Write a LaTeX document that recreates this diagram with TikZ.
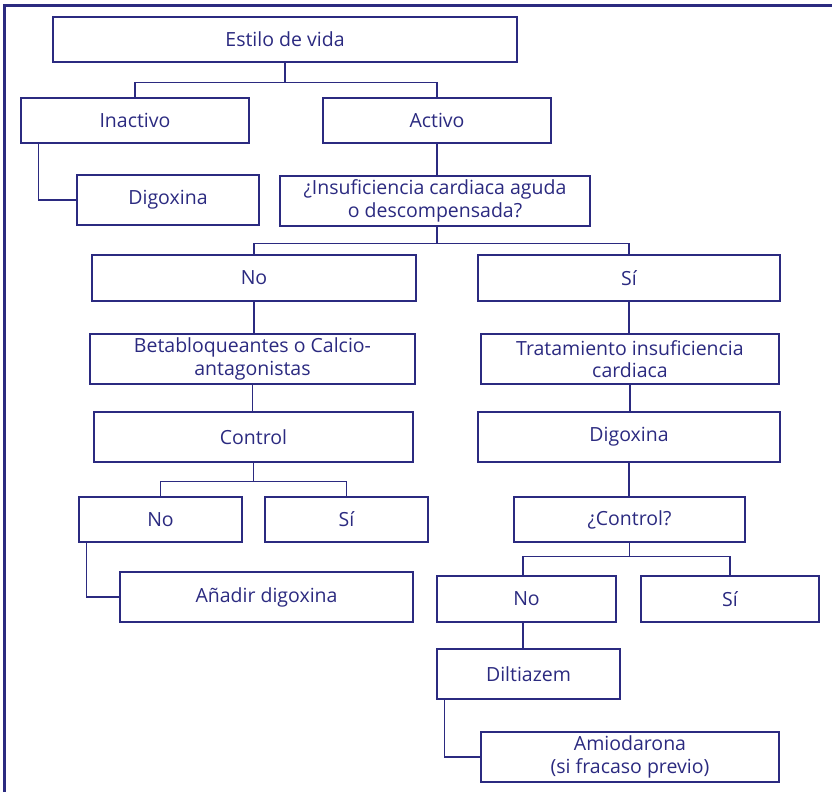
\documentclass[tikz,border=0pt]{standalone}
\usepackage{fontspec}
\setmainfont{Open Sans}
\usetikzlibrary{calc}
\definecolor{azul}{RGB}{43,42,128}

\begin{document}
\begin{tikzpicture}[
  x=1pt, y=-1pt,
  caja/.style={draw=azul, line width=1.3pt, text=azul, inner sep=0pt,
    align=center, font=\fontsize{19.5}{22.5}\selectfont},
  linea/.style={draw=azul, line width=1.3pt},
]
  \useasboundingbox (0,0) rectangle (832,792);
  % marco: solo arriba e izquierda
  \draw[azul, line width=3pt] (4,792) -- (4,6) -- (832,6);

  % primer nivel
  \node[caja, minimum width=464pt, minimum height=45pt] (estilo) at (285,39.5) {Estilo de vida};
  \node[caja, minimum width=228pt, minimum height=45pt] (inactivo) at (135,120.5) {Inactivo};
  \node[caja, minimum width=228pt, minimum height=45pt] (activo) at (437,120.5) {Activo};
  \node[caja, minimum width=182pt, minimum height=50pt] (digA) at (168,200) {Digoxina};
  \node[caja, minimum width=310pt, minimum height=50pt] (icq) at (435,201)
    {¿Insuficiencia cardiaca aguda\\o descompensada?};

  % rama izquierda (No)
  \node[caja, minimum width=324pt, minimum height=46pt] (no1) at (254,278) {No};
  \node[caja, minimum width=325pt, minimum height=50pt] (beta) at (252.5,359)
    {Betabloqueantes o Calcio-\\antagonistas};
  \node[caja, minimum width=319pt, minimum height=50pt] (control) at (253.5,437) {Control};
  \node[caja, minimum width=163pt, minimum height=45pt] (no2) at (160.5,519.5) {No};
  \node[caja, minimum width=163pt, minimum height=45pt] (si2) at (346.5,519.5) {Sí};
  \node[caja, minimum width=293pt, minimum height=50pt] (anadir) at (266.5,597) {Añadir digoxina};

  % rama derecha (Sí)
  \node[caja, minimum width=302pt, minimum height=46pt] (si1) at (629,278) {Sí};
  \node[caja, minimum width=298pt, minimum height=50pt] (trat) at (630,359)
    {Tratamiento insuficiencia\\cardiaca};
  \node[caja, minimum width=302pt, minimum height=50pt] (digB) at (629,437) {Digoxina};
  \node[caja, minimum width=231pt, minimum height=45pt] (ctrl) at (629.5,519.5) {¿Control?};
  \node[caja, minimum width=179pt, minimum height=46pt] (no3) at (526.5,599) {No};
  \node[caja, minimum width=178pt, minimum height=46pt] (si3) at (730,599) {Sí};
  \node[caja, minimum width=183pt, minimum height=50pt] (dilt) at (528.5,674) {Diltiazem};
  \node[caja, minimum width=298pt, minimum height=50pt] (amio) at (630,757)
    {Amiodarona\\(si fracaso previo)};

  % uniones
  \coordinate (j1) at ($(estilo.south)+(0,20)$);
  \coordinate (j2) at ($(activo.south |- icq.south)+(0,17)$);
  \coordinate (j3) at ($(control.south)+(0,19)$);
  \coordinate (j4) at ($(ctrl.south)+(0,14)$);

  \draw[linea] (estilo.south) -- (j1);
  \draw[linea] (inactivo.north) |- (j1) -| (activo.north);
  \draw[linea] ([xshift=18pt]inactivo.south west) |- (digA.west);
  \draw[linea] (activo.south) -- (activo.south |- icq.north);

  \draw[linea] (activo.south |- icq.south) -- (j2);
  \draw[linea] (no1.north) |- (j2) -| (si1.north);
  \draw[linea] (no1.south) -- (no1.south |- beta.north);
  \draw[linea] (beta.south) -- (beta.south |- control.north);
  \draw[linea] (control.south) -- (j3);
  \draw[linea] (no2.north) |- (j3) -| (si2.north);
  \draw[linea] ([xshift=8pt]no2.south west) |- (anadir.west);

  \draw[linea] (si1.south) -- (si1.south |- trat.north);
  \draw[linea] (trat.south) -- (trat.south |- digB.north);
  \draw[linea] (digB.south) -- (digB.south |- ctrl.north);
  \draw[linea] (ctrl.south) -- (j4);
  \draw[linea] ([xshift=-3.5pt]no3.north) |- (j4) -| (si3.north);
  \draw[linea] ([xshift=-3.5pt]no3.south) -- ([xshift=-3.5pt]no3.south |- dilt.north);
  \draw[linea] ([xshift=8pt]dilt.south west) |- (amio.west);
\end{tikzpicture}
\end{document}
